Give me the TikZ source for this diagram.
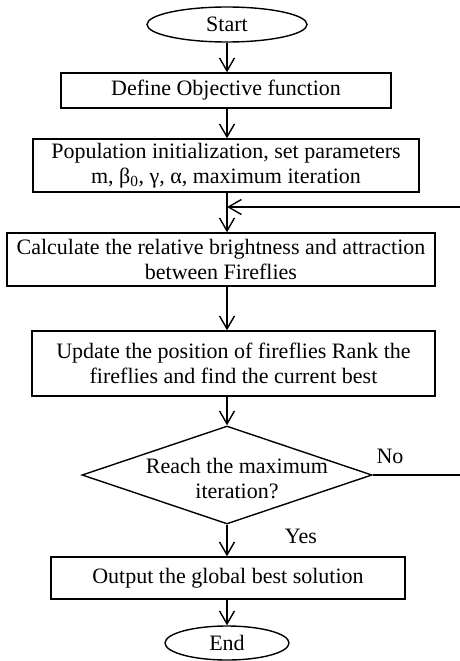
\documentclass[tikz,border=0pt]{standalone}
\usepackage{fontspec}
\setmainfont{Liberation Serif}
\usetikzlibrary{shapes.geometric,arrows.meta}
\begin{document}
\begin{tikzpicture}[x=1pt,y=-1pt,
  font=\fontsize{22}{25}\selectfont,
  line width=1.4pt,
  procbox/.style={draw, rectangle, inner sep=0pt, align=center},
  term/.style={draw, ellipse, inner sep=0pt},
  decbox/.style={draw, diamond, inner sep=0pt},
  flow/.style={-{Straight Barb[length=13pt,width=15pt,line width=1.4pt]}},
  lbl/.style={inner sep=0pt}
]
\useasboundingbox (0,0) rectangle (459,661);
\node[term, minimum width=160pt, minimum height=35pt] (start) at (227,24.5) {Start};
\node[procbox, minimum width=330pt, minimum height=35pt] (def) at (226,90.5) {Define Objective function};
\node[procbox, minimum width=386pt, minimum height=53pt] (pop) at (226,165.5) {Population initialization, set parameters\\m, β\textsubscript{0}, γ, α, maximum iteration};
\node[procbox, minimum width=428pt, minimum height=53pt] (calc) at (221,259.5) {Calculate the relative brightness and attraction\\between Fireflies};
\node[procbox, minimum width=403pt, minimum height=65pt] (upd) at (233.5,363.5) {Update the position of fireflies Rank the\\fireflies and find the current best};
\node[decbox, minimum width=290pt, minimum height=98pt] (dec) at (227,475) {};
\node[lbl, align=center] (dectext) at (237,479) {Reach the maximum\\iteration?};
\node[procbox, minimum width=354pt, minimum height=42pt] (out) at (228,578) {Output the global best solution};
\node[term, minimum width=124pt, minimum height=34pt] (end) at (227,643) {End};
\node[lbl] (no) at (390,456) {No};
\node[lbl] (yes) at (301,536) {Yes};
\coordinate (j) at (227,207);

\draw[flow] (start.south) -- (def.north -| start.south);
\draw[flow] (def.south -| start.south) -- (pop.north -| start.south);
\draw[flow] (pop.south -| start.south) -- (calc.north -| start.south);
\draw[flow] (calc.south -| start.south) -- (upd.north -| start.south);
\draw[flow] (upd.south -| start.south) -- (dec.north);
\draw[flow] (dec.south) -- (out.north -| dec.south);
\draw[flow] (out.south -| dec.south) -- (end.north);
\draw[flow] (dec.east) -- ++(96,0) |- (j);
\end{tikzpicture}
\end{document}
